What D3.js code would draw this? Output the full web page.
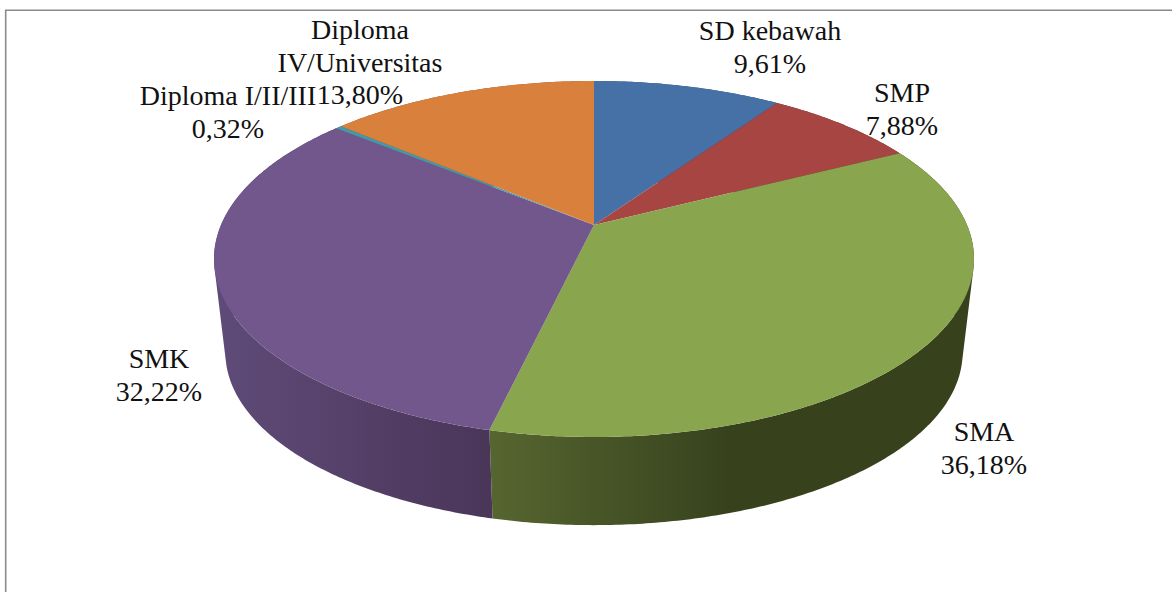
<!DOCTYPE html>
<html><head><meta charset="utf-8">
<script src="https://cdn.jsdelivr.net/npm/d3@7"></script>
<style>html,body{margin:0;padding:0;background:#fff;overflow:hidden}svg{display:block}text{font-family:"Liberation Serif",serif;fill:#111}</style>
</head><body><svg id="c" width="1172" height="592"></svg>
<script>
const categories = ["SD kebawah","SMP","SMA","SMK","Diploma I/II/III","Diploma IV/Universitas"];
const values = [9.61,7.88,36.18,32.22,0.32,13.80];
const valueLabels = ["9,61%","7,88%","36,18%","32,22%","0,32%","13,80%"];
const topColors = ["#4571a6","#a74543","#89a54e","#71578b","#4198af","#d8803c"];
const sideColorsA = ["#2b4566","#672a29","#566630","#5f4b78","#285d6b","#854f25"];
const sideColorsB = ["#2b4566","#672a29","#37421d","#4a3659","#285d6b","#854f25"];
const labelLines = [["SD kebawah","9,61%"],["SMP","7,88%"],["SMA","36,18%"],["SMK","32,22%"],["Diploma I/II/III","0,32%"],["Diploma","IV/Universitas","13,80%"]];
const labelAt = [[770,40],[902,102],[984,441],[159,368],[228,105],[360,39]];

const svg=d3.select("#c");
const defs=svg.append("defs");
svg.append("path").attr("d","M5.7,592V10.2H1172").attr("fill","none").attr("stroke","#8a8a8a").attr("stroke-width",1.6);

const k=0.191;
const xTop=d3.scaleLinear().domain([-1,1]).range([594-373,594+373]);
const yTop=d3.scaleLinear().domain([-1,1]).range([225-171.5,225+171.5]);
const s=0.97, baseY=319.5;
const xBase=d3.scaleLinear().domain([-1,1]).range([594-373*s,594+373*s]);
const yBase=d3.scaleLinear().domain([-1,1]).range([baseY-171.5*s,baseY+171.5*s]);
function proj(a,xs,ys){const u=Math.sin(a),v=-Math.cos(a),w=1-k*v;return [xs(u/w),ys(v/w)];}
const topPt=a=>proj(a,xTop,yTop), basePt=a=>proj(a,xBase,yBase);

const arcs=d3.pie().value(d=>d).sort(null)(values);
const samples=(a0,a1)=>{const n=Math.max(2,Math.ceil((a1-a0)/0.01));return d3.range(n+1).map(i=>a0+(a1-a0)*i/n);};
const line=d3.line();

const sides=svg.append("g");
arcs.forEach((d,i)=>{
  const as=samples(d.startAngle,d.endAngle);
  const xs=as.map(a=>topPt(a)[0]);
  const x0=d3.min(xs),x1=d3.max(xs);
  const g=defs.append("linearGradient").attr("id","s"+i).attr("gradientUnits","userSpaceOnUse")
    .attr("x1",x0).attr("x2",i===2?730:x1).attr("y1",0).attr("y2",0);
  g.append("stop").attr("offset",0).attr("stop-color",sideColorsA[i]);
  g.append("stop").attr("offset",1).attr("stop-color",sideColorsB[i]);
  let p="";
  for(let j=0;j<as.length-1;j++){
    const q=[topPt(as[j]),topPt(as[j+1]),basePt(as[j+1]),basePt(as[j])];
    if(d3.polygonArea(q)<0) q.reverse();   // same winding everywhere so overlaps past the silhouette do not cancel
    p+=line(q)+"Z";
  }
  sides.append("path").attr("d",p).attr("fill",`url(#s${i})`);
});

const tops=svg.append("g");
arcs.forEach((d,i)=>{
  const c=[xTop(0),yTop(0)];
  const as=samples(d.startAngle,d.endAngle).map(topPt);
  tops.append("path").attr("d",line([c,...as])+"Z").attr("fill",topColors[i]);
});

const fs=28, lh=32.5;
labelLines.forEach((ls,i)=>{
  const t=svg.append("text").attr("text-anchor","middle").attr("font-size",fs);
  ls.forEach((l,j)=>t.append("tspan").attr("x",labelAt[i][0]).attr("y",labelAt[i][1]+j*lh).text(l));
});
</script></body></html>
